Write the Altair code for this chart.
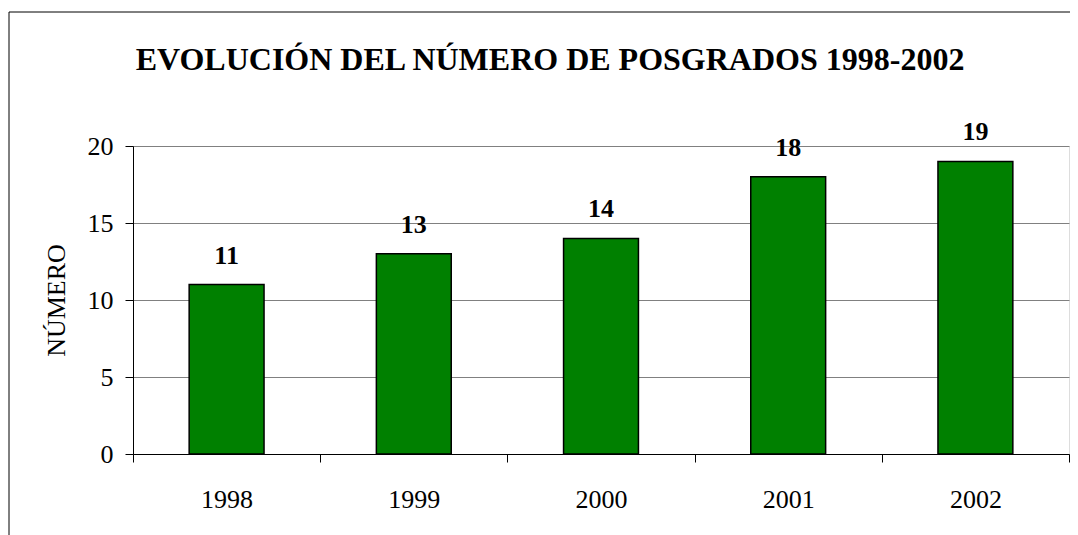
import altair as alt
import pandas as pd

years = ["1998", "1999", "2000", "2001", "2002"]
values = [11, 13, 14, 18, 19]
title_text = ["EVOLUCIÓN DEL NÚMERO DE POSGRADOS 1998-2002"]
y_title = "NÚMERO"
y_ticks = [0, 5, 10, 15, 20]

df = pd.DataFrame({"year": years, "value": values})
one = pd.DataFrame({"t": title_text})
FONT = "Liberation Serif"

x_enc = alt.X(
    "year:N",
    sort=years,
    scale=alt.Scale(paddingInner=0, paddingOuter=0),
    axis=alt.Axis(
        title=None,
        labelAngle=0,
        labelFont=FONT,
        labelFontSize=26,
        labelColor="black",
        labelPadding=24,
        tickBand="extent",
        tickSize=8,
        tickColor="black",
        domainColor="black",
        grid=False,
    ),
)
y_enc = alt.Y(
    "value:Q",
    scale=alt.Scale(domain=[0, 20], nice=False),
    axis=alt.Axis(
        title=y_title,
        titleFont=FONT,
        titleFontSize=26,
        titleFontWeight="normal",
        titleColor="black",
        titleAngle=270,
        titleBaseline="alphabetic",
        titleX=-69,
        titleY=154,
        values=y_ticks,
        labelFont=FONT,
        labelFontSize=26,
        labelColor="black",
        labelPadding=12,
        tickSize=8,
        tickColor="black",
        domainColor="black",
        grid=True,
        gridColor="#808080",
        gridWidth=1,
    ),
)

bars = alt.Chart(df).mark_bar(
    color="#008000", stroke="black", strokeWidth=1.5,
    width=alt.RelativeBandSize(0.4),
).encode(x=x_enc, y=y_enc)

labels = alt.Chart(df).mark_text(
    font=FONT, fontSize=26, fontWeight="bold", color="black",
    baseline="alphabetic", dy=-21,
).encode(x=alt.X("year:N", sort=years), y=alt.Y("value:Q"), text="value:Q")

title = alt.Chart(one).mark_text(
    font=FONT, fontSize=32, fontWeight="bold", color="black",
    baseline="alphabetic", align="center",
).encode(x=alt.value(417), y=alt.value(-76), text="t:N")

frame_top = alt.Chart(one).mark_rule(color="black", strokeWidth=1).encode(
    x=alt.value(-124), x2=alt.value(960), y=alt.value(-134)
)
frame_left = alt.Chart(one).mark_rule(color="black", strokeWidth=1).encode(
    x=alt.value(-124), y=alt.value(-134), y2=alt.value(500)
)

chart = alt.layer(frame_top, frame_left, bars, labels, title).properties(
    width=936, height=308,
    padding={"left": 125, "top": 138, "right": 1, "bottom": 81},
    autosize=alt.AutoSizeParams(type="none"),
).configure_view(stroke="#808080", strokeWidth=1).configure(background="white")

chart.save("out.html", embed_options={"renderer": "svg", "actions": False})
